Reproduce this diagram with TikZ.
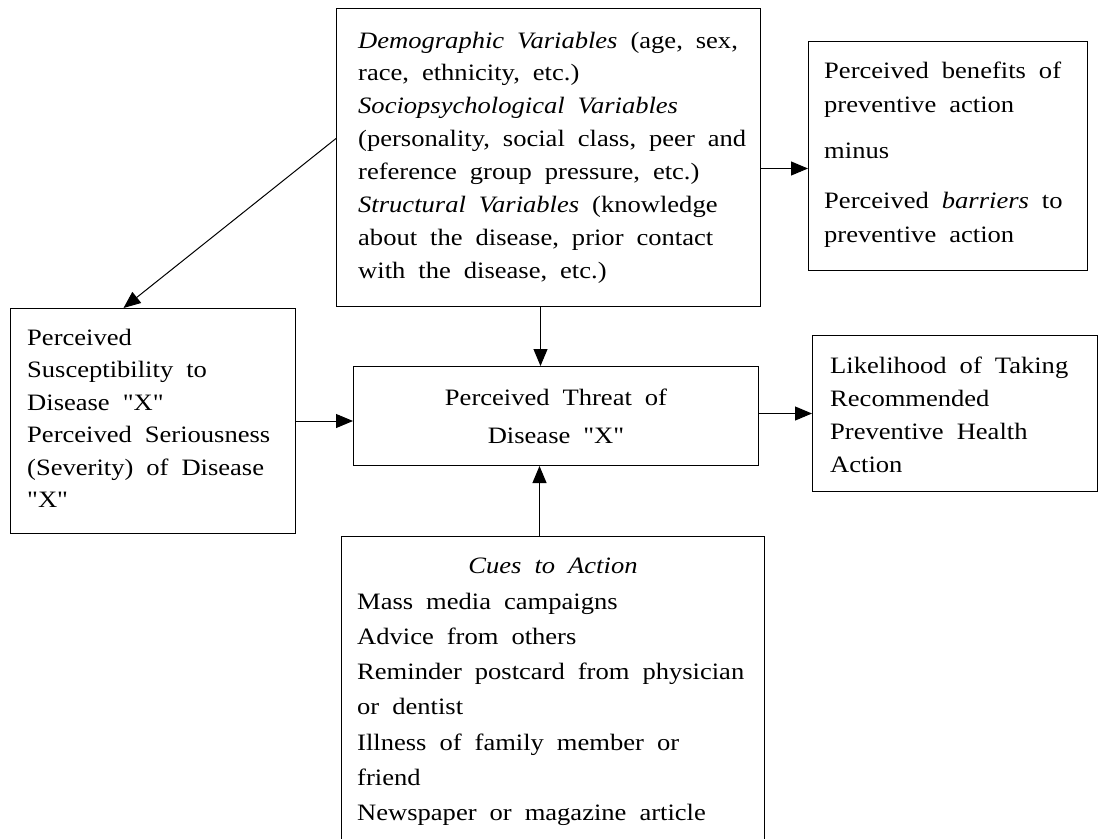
\documentclass[tikz,border=0pt]{standalone}
\usepackage{fontspec}
\setmainfont{Liberation Serif}[FakeStretch=1.13, Ligatures=TeXOff]
\usetikzlibrary{arrows.meta}
\newcommand\txtlines[2]{\vtop{\baselineskip=#1pt\lineskiplimit=-100pt\lineskip=0pt\halign{##\hfil\cr#2\crcr}}}
\newcommand\ctrlines[2]{\vtop{\baselineskip=#1pt\lineskiplimit=-100pt\lineskip=0pt\halign{\hfil##\hfil\cr#2\crcr}}}
\newcommand\diagfont{\fontsize{23.5}{32}\selectfont\frenchspacing\spaceskip=13pt\relax}
\tikzset{
  box/.style={draw=black, line width=1pt, inner sep=0pt, anchor=north west, rectangle},
  txt/.style={inner sep=0pt, anchor=base west, font=\diagfont},
  ctxt/.style={txt, anchor=base},
  arr/.style={draw=black, line width=1pt, -{Triangle[length=17pt,width=14pt]}}
}
\begin{document}
\begin{tikzpicture}[x=1pt,y=-1pt]
\useasboundingbox (0,0) rectangle (1099,838);
% boxes
\node[box, minimum width=424pt, minimum height=298pt] (demo) at (336,8) {};
\node[box, minimum width=279pt, minimum height=229pt] (benef) at (808,41) {};
\node[box, minimum width=285pt, minimum height=225pt] (susc) at (10,308) {};
\node[box, minimum width=405pt, minimum height=99pt] (threat) at (353,366) {};
\node[box, minimum width=285pt, minimum height=156pt] (likely) at (812,335) {};
\node[box, minimum width=423pt, minimum height=305pt] (cues) at (341,536) {};
% texts
\node[txt] (demotext) at (358,48) {\txtlines{32.9}{%
\textit{Demographic Variables} (age, sex,\cr
race, ethnicity, etc.)\cr
\textit{Sociopsychological Variables}\cr
(personality, social class, peer and\cr
reference group pressure, etc.)\cr
\textit{Structural Variables} (knowledge\cr
about the disease, prior contact\cr
with the disease, etc.)}};
\node[txt] (beneftext) at (824,78) {\txtlines{34}{%
Perceived benefits of\cr
preventive action\cr
\noalign{\vskip 12pt}
minus\cr
\noalign{\vskip 16pt}
Perceived \textit{barriers} to\cr
preventive action}};
\node[txt] (susctext) at (27,345) {\txtlines{32.5}{%
Perceived\cr
Susceptibility to\cr
Disease "X"\cr
Perceived Seriousness\cr
(Severity) of Disease\cr
"X"}};
\node[ctxt] (threattext) at (556,405) {\ctrlines{38}{%
Perceived Threat of\cr
Disease "X"}};
\node[txt] (likelytext) at (830,373) {\txtlines{33.3}{%
Likelihood of Taking\cr
Recommended\cr
Preventive Health\cr
Action}};
\node[ctxt] (cuestitle) at (553,573) {\textit{Cues to Action}};
\node[txt] (cuestext) at (357,609) {\txtlines{35.3}{%
Mass media campaigns\cr
Advice from others\cr
Reminder postcard from physician\cr
or dentist\cr
Illness of family member or\cr
friend\cr
Newspaper or magazine article}};
% connectors
\draw[arr] ([yshift=-11pt]demo.east) -- ([yshift=-11pt]demo.east -| benef.west);
\draw[arr] ([yshift=19pt]demo.west) -- ([xshift=-29.5pt]susc.north);
\draw[arr] ([xshift=-8pt]demo.south) -- ([xshift=-8pt]demo.south |- threat.north);
\draw[arr] (susc.east) -- (susc.east -| threat.west);
\draw[arr] ([yshift=2.5pt]threat.east) -- ([yshift=2.5pt]threat.east -| likely.west);
\draw[arr] ([xshift=-13.5pt]cues.north) -- ([xshift=-13.5pt]cues.north |- threat.south);
\end{tikzpicture}
\end{document}
